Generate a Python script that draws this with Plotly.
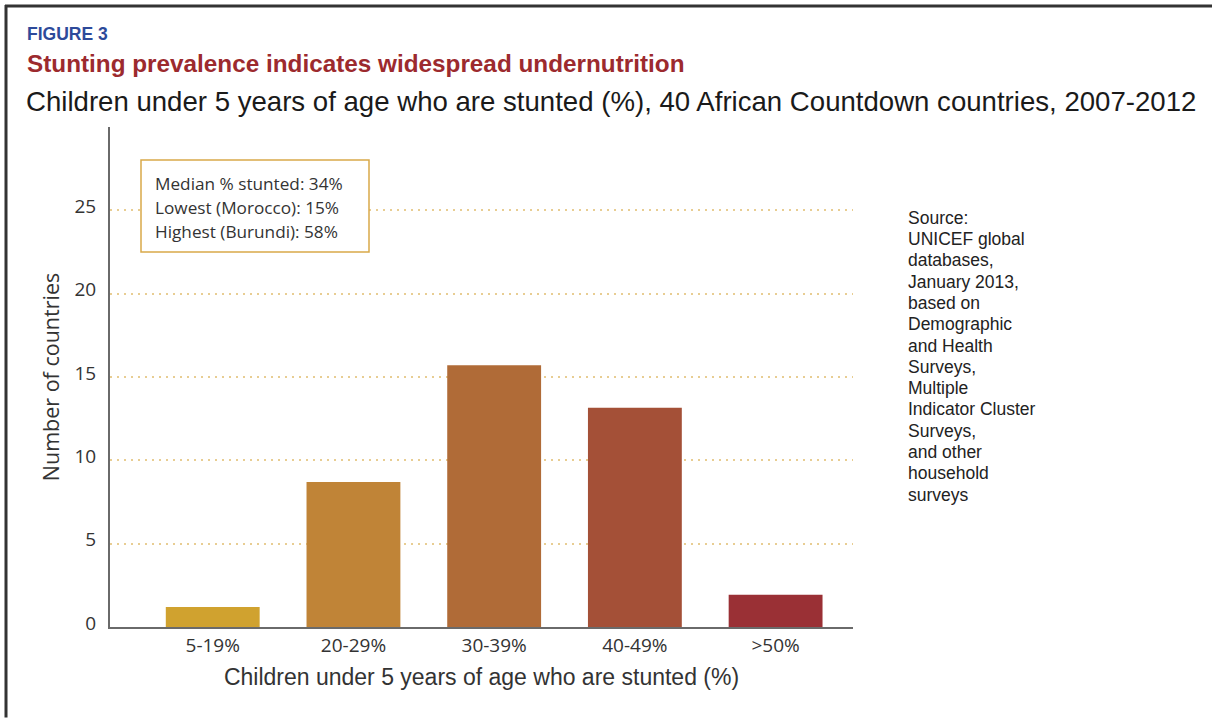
import plotly.graph_objects as go

# ---- data ----
categories = ["5-19%", "20-29%", "30-39%", "40-49%", ">50%"]
countries = [1.2, 8.7, 15.7, 13.15, 1.94]
bar_colors = ["#d0a22f", "#c08437", "#b06b37", "#a45037", "#9a3035"]
y_ticks = [0, 5, 10, 15, 20, 25]
box_lines = ["Median % stunted: 34%", "Lowest (Morocco): 15%", "Highest (Burundi): 58%"]
source_lines = ["Source:", "UNICEF global", "databases,", "January 2013,", "based on",
                "Demographic", "and Health", "Surveys,", "Multiple", "Indicator Cluster",
                "Surveys,", "and other", "household", "surveys"]

W, H = 1212, 718
L, R, T, B = 110, 359, 127, 90.5
PW, PH = W - L - R, H - T - B

def px(x):
    return (x - L) / PW

def py(y):
    return (H - B - y) / PH

fig = go.Figure()
fig.add_trace(go.Bar(x=categories, y=countries, marker=dict(color=bar_colors, line=dict(width=0)),
                     hoverinfo="x+y"))

tick_font = dict(family="Open Sans, sans-serif", size=19, color="#333333")
fig.update_layout(
    width=W, height=H,
    margin=dict(l=L, r=R, t=T, b=B, autoexpand=False),
    paper_bgcolor="white", plot_bgcolor="white",
    bargap=0.333, showlegend=False,
    xaxis=dict(range=[-0.73, 4.55], showline=True, linecolor="#6a6a6a", linewidth=2,
               showgrid=False, zeroline=False, ticks="", tickfont=tick_font,
               ticklabelstandoff=0,
               title=dict(text="Children under 5 years of age who are stunted (%)",
                          font=dict(family="Liberation Sans, Arial, sans-serif", size=23, color="#333333"),
                          standoff=12)),
    yaxis=dict(range=[0, 30], tickvals=y_ticks, showline=True, linecolor="#6a6a6a", linewidth=2,
               showgrid=True, gridcolor="#e8cd92", gridwidth=2, griddash="2px,5px",
               zeroline=False, ticks="", tickfont=tick_font, ticklabelstandoff=8,
               ticklabelshift=-4,
               title=dict(text="Number of countries",
                          font=dict(family="Open Sans, sans-serif", size=21.5, color="#333333"),
                          standoff=9)),
)

# outer frame (top and left edges)
fig.add_shape(type="line", xref="paper", yref="paper", x0=px(5), x1=px(1212), y0=py(6), y1=py(6),
              line=dict(color="#333333", width=3))
fig.add_shape(type="line", xref="paper", yref="paper", x0=px(6), x1=px(6), y0=py(5), y1=py(718),
              line=dict(color="#333333", width=3))

# headings
fig.add_annotation(text="<b>FIGURE 3</b>", xref="paper", yref="paper", x=px(25), y=py(34),
                   xanchor="left", yanchor="middle", showarrow=False,
                   font=dict(family="Liberation Sans, Arial, sans-serif", size=17.5, color="#2d4a9a"))
fig.add_annotation(text="<b>Stunting prevalence indicates widespread undernutrition</b>", xref="paper", yref="paper",
                   x=px(25), y=py(63), xanchor="left", yanchor="middle", showarrow=False,
                   font=dict(family="Liberation Sans, Arial, sans-serif", size=24.3, color="#9c2a2e"))
fig.add_annotation(text="Children under 5 years of age who are stunted (%), 40 African Countdown countries, 2007-2012",
                   xref="paper", yref="paper", x=px(24), y=py(101), xanchor="left", yanchor="middle",
                   showarrow=False, font=dict(family="Liberation Sans, Arial, sans-serif", size=27.6, color="#1a1a1a"))

# info box
fig.add_shape(type="rect", xref="paper", yref="paper", x0=px(141), x1=px(369), y0=py(160), y1=py(252),
              fillcolor="white", line=dict(color="#d9a94a", width=1.5), layer="above")
for i, line in enumerate(box_lines):
    fig.add_annotation(text=line, xref="paper", yref="paper", x=px(153), y=py(183.5 + i * 24.2),
                       xanchor="left", yanchor="middle", showarrow=False,
                       font=dict(family="Open Sans, sans-serif", size=17.2, color="#333333"))

# source note
for i, line in enumerate(source_lines):
    fig.add_annotation(text=line, xref="paper", yref="paper", x=px(906), y=py(218 + i * 21.3),
                       xanchor="left", yanchor="middle", showarrow=False,
                       font=dict(family="Liberation Sans, Arial, sans-serif", size=17.5, color="#222222"))

fig.write_html("out.html", config={"displayModeBar": False},
               post_script="document.body.style.margin='0px';")
